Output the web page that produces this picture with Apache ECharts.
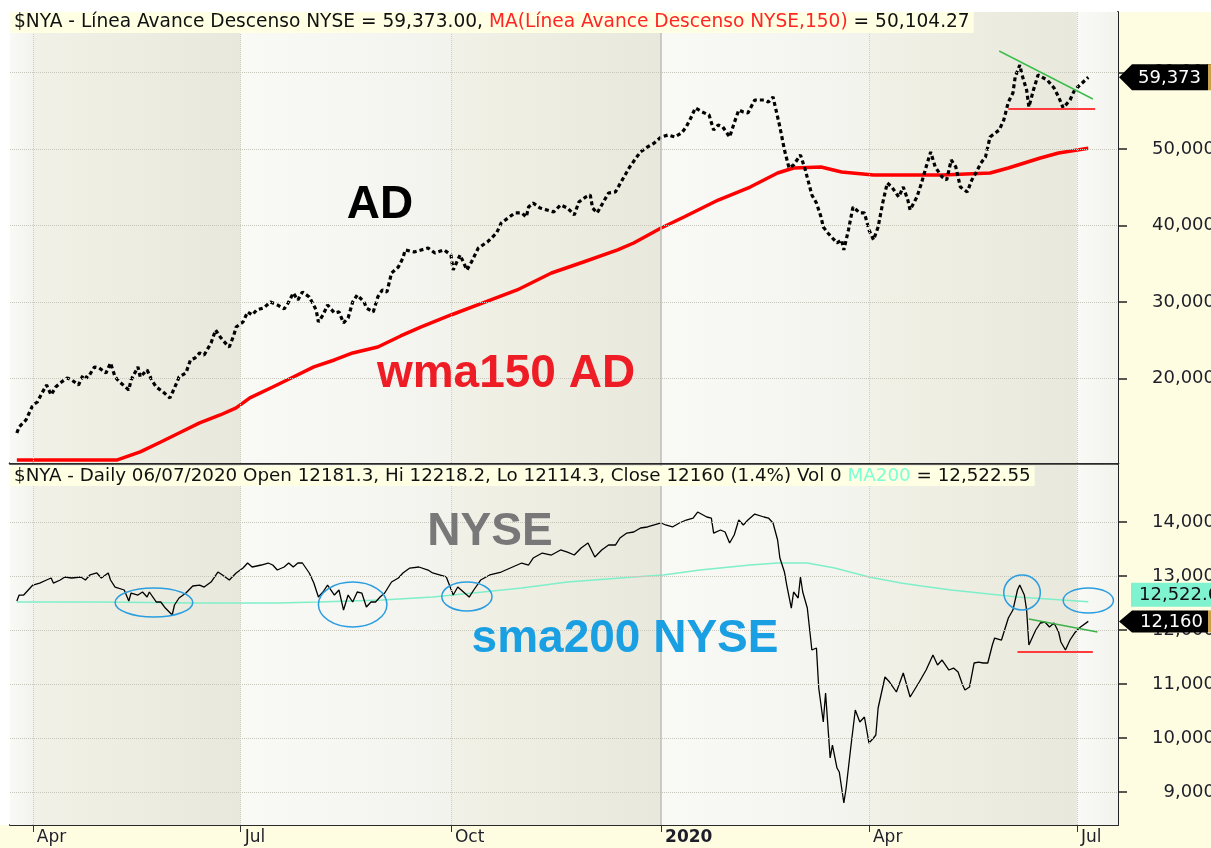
<!DOCTYPE html>
<html>
<head>
<meta charset="utf-8">
<script src="https://cdn.jsdelivr.net/npm/echarts@6/dist/echarts.min.js"></script>
<style>
  html, body { margin: 0; padding: 0; background: #fff; }
  #chart { width: 1211px; height: 848px; }
</style>
</head>
<body>
<div id="chart"></div>
<script>
// Línea Avance/Descenso NYSE (panel superior)
const adDates = [
  '2019-03-25','2019-03-26','2019-03-29','2019-04-01','2019-04-03','2019-04-05','2019-04-07','2019-04-09','2019-04-11','2019-04-13',
  '2019-04-16','2019-04-18','2019-04-21','2019-04-23','2019-04-25','2019-04-28','2019-04-30','2019-05-03','2019-05-05','2019-05-07',
  '2019-05-09','2019-05-13','2019-05-14','2019-05-17','2019-05-18','2019-05-21','2019-05-23','2019-05-25','2019-05-28','2019-05-31',
  '2019-06-02','2019-06-04','2019-06-07','2019-06-09','2019-06-11','2019-06-13','2019-06-15','2019-06-18','2019-06-20','2019-06-22',
  '2019-06-25','2019-06-26','2019-06-28','2019-06-29','2019-07-02','2019-07-04','2019-07-06','2019-07-08','2019-07-11','2019-07-14',
  '2019-07-17','2019-07-20','2019-07-22','2019-07-24','2019-07-26','2019-07-28','2019-07-31','2019-08-03','2019-08-04','2019-08-06',
  '2019-08-08','2019-08-11','2019-08-13','2019-08-15','2019-08-17','2019-08-19','2019-08-21','2019-08-24','2019-08-25','2019-08-28',
  '2019-08-30','2019-09-01','2019-09-03','2019-09-05','2019-09-08','2019-09-10','2019-09-11','2019-09-15','2019-09-18','2019-09-21',
  '2019-09-24','2019-09-28','2019-10-01','2019-10-02','2019-10-05','2019-10-08','2019-10-10','2019-10-13','2019-10-17','2019-10-21',
  '2019-10-23','2019-10-26','2019-10-29','2019-11-01','2019-11-03','2019-11-04','2019-11-06','2019-11-09','2019-11-12','2019-11-15',
  '2019-11-18','2019-11-21','2019-11-24','2019-11-26','2019-11-29','2019-12-01','2019-12-02','2019-12-04','2019-12-06','2019-12-09',
  '2019-12-12','2019-12-15','2019-12-18','2019-12-21','2019-12-23','2019-12-26','2019-12-29','2020-01-01','2020-01-04','2020-01-07',
  '2020-01-10','2020-01-12','2020-01-14','2020-01-16','2020-01-19','2020-01-22','2020-01-24','2020-01-26','2020-01-28','2020-01-31',
  '2020-02-02','2020-02-04','2020-02-06','2020-02-08','2020-02-11','2020-02-15','2020-02-17','2020-02-19','2020-02-20','2020-02-22',
  '2020-02-24','2020-02-26','2020-02-28','2020-03-02','2020-03-04','2020-03-07','2020-03-09','2020-03-11','2020-03-12','2020-03-14',
  '2020-03-18','2020-03-20','2020-03-21','2020-03-23','2020-03-25','2020-03-28','2020-03-30','2020-04-01','2020-04-03','2020-04-05',
  '2020-04-07','2020-04-09','2020-04-11','2020-04-14','2020-04-16','2020-04-18','2020-04-19','2020-04-22','2020-04-24','2020-04-26',
  '2020-04-28','2020-04-30','2020-05-03','2020-05-05','2020-05-07','2020-05-09','2020-05-11','2020-05-14','2020-05-16','2020-05-18',
  '2020-05-20','2020-05-22','2020-05-24','2020-05-28','2020-05-30','2020-06-01','2020-06-03','2020-06-04','2020-06-06','2020-06-07',
  '2020-06-09','2020-06-10','2020-06-12','2020-06-14','2020-06-18','2020-06-21','2020-06-23','2020-06-25','2020-06-28','2020-06-30',
  '2020-07-06'
];
const adValues = [
  12880,13670,14580,16540,16930,18110,19150,17850,18890,19420,
  20070,19810,19150,20460,20070,21510,21380,20720,22030,20200,
  19550,18500,19810,21510,20200,21120,19810,18890,18240,17460,
  18760,20200,20720,22420,22680,23340,23080,24640,26340,25430,
  24380,24120,25690,26740,27390,28700,28300,28960,29220,30000,
  29610,29090,30000,31180,30260,31310,30660,28960,27390,28300,
  29610,28570,28700,27260,27910,30000,30920,30000,29220,28700,
  30660,31570,31310,33790,34580,35750,36800,36540,36800,37060,
  36410,36800,36150,34190,36150,34190,35230,37060,37850,39020,
  40330,40980,41640,41640,41110,42420,42940,42290,42030,41770,
  42680,42290,41370,43070,43730,43990,42290,41640,42680,44250,
  44380,45950,47520,48820,49610,50260,50780,51570,51830,51570,
  52090,52880,54050,55360,54840,54440,52480,53140,52880,51570,
  53400,55100,54840,54710,56400,56400,56140,56800,55490,52880,
  49870,47520,47910,49220,47390,43990,42940,41110,39810,39020,
  37710,38110,36800,39410,42420,41640,41640,39410,38110,39810,
  42940,45560,45030,43730,45030,43330,42030,43730,45560,47650,
  49610,47650,46340,45950,48560,47650,45030,44380,45950,46990,
  48170,48950,51570,52480,53790,56140,57320,59410,60980,59670,
  57710,55490,57710,59670,59020,57970,56800,55360,56400,57710,
  59373
];

// MA ponderada de 150 sesiones sobre la línea AD
const wmaDates = [
  '2019-03-25','2019-05-08','2019-05-18','2019-05-27','2019-06-04','2019-06-13','2019-06-22','2019-06-29','2019-07-05','2019-07-15',
  '2019-07-24','2019-08-02','2019-08-11','2019-08-19','2019-08-30','2019-09-09','2019-09-18','2019-10-01','2019-10-15','2019-10-30',
  '2019-11-14','2019-11-28','2019-12-13','2019-12-20','2020-01-01','2020-01-11','2020-01-26','2020-02-09','2020-02-21','2020-02-28',
  '2020-03-11','2020-03-20','2020-04-03','2020-05-03','2020-05-24','2020-06-01','2020-06-08','2020-06-15','2020-06-23','2020-07-06'
];
const wmaValues = [
  9350,9350,10400,11700,12880,14190,15230,16150,17460,18890,
  20200,21510,22420,23340,24120,25560,26740,28300,29870,31570,
  33790,35230,36800,37710,39670,41110,43330,45030,46860,47520,
  47650,46990,46600,46600,46860,47520,48170,48820,49480,50104.27
];

// $NYA cierre (panel inferior)
const nyaDates = [
  '2019-03-25','2019-03-26','2019-03-28','2019-03-30','2019-04-01','2019-04-04','2019-04-07','2019-04-09','2019-04-10','2019-04-13',
  '2019-04-15','2019-04-18','2019-04-22','2019-04-24','2019-04-26','2019-04-29','2019-05-01','2019-05-04','2019-05-05','2019-05-07',
  '2019-05-11','2019-05-13','2019-05-14','2019-05-17','2019-05-19','2019-05-21','2019-05-22','2019-05-25','2019-05-27','2019-05-29',
  '2019-06-01','2019-06-02','2019-06-04','2019-06-07','2019-06-10','2019-06-13','2019-06-15','2019-06-18','2019-06-21','2019-06-23',
  '2019-06-26','2019-06-29','2019-07-02','2019-07-04','2019-07-06','2019-07-10','2019-07-13','2019-07-15','2019-07-17','2019-07-20',
  '2019-07-22','2019-07-24','2019-07-26','2019-07-28','2019-07-31','2019-08-02','2019-08-04','2019-08-06','2019-08-08','2019-08-11',
  '2019-08-13','2019-08-15','2019-08-17','2019-08-19','2019-08-21','2019-08-23','2019-08-25','2019-08-27','2019-08-29','2019-08-31',
  '2019-09-02','2019-09-05','2019-09-08','2019-09-10','2019-09-13','2019-09-17','2019-09-21','2019-09-23','2019-09-26','2019-09-29',
  '2019-10-02','2019-10-04','2019-10-07','2019-10-09','2019-10-11','2019-10-14','2019-10-18','2019-10-23','2019-10-27','2019-11-01',
  '2019-11-04','2019-11-06','2019-11-10','2019-11-14','2019-11-18','2019-11-21','2019-11-24','2019-11-27','2019-11-30','2019-12-03',
  '2019-12-06','2019-12-09','2019-12-12','2019-12-14','2019-12-17','2019-12-20','2019-12-23','2019-12-26','2019-12-29','2020-01-01',
  '2020-01-03','2020-01-06','2020-01-09','2020-01-12','2020-01-15','2020-01-17','2020-01-21','2020-01-23','2020-01-24','2020-01-27',
  '2020-01-29','2020-01-31','2020-02-02','2020-02-04','2020-02-06','2020-02-08','2020-02-11','2020-02-15','2020-02-17','2020-02-19',
  '2020-02-21','2020-02-22','2020-02-24','2020-02-25','2020-02-27','2020-02-28','2020-03-01','2020-03-02','2020-03-03','2020-03-05',
  '2020-03-07','2020-03-09','2020-03-10','2020-03-12','2020-03-13','2020-03-15','2020-03-16','2020-03-18','2020-03-19','2020-03-21',
  '2020-03-22','2020-03-24','2020-03-26','2020-03-28','2020-03-30','2020-04-01','2020-04-03','2020-04-04','2020-04-05','2020-04-08',
  '2020-04-10','2020-04-13','2020-04-16','2020-04-19','2020-04-23','2020-04-26','2020-04-29','2020-05-01','2020-05-03','2020-05-06',
  '2020-05-08','2020-05-10','2020-05-12','2020-05-13','2020-05-15','2020-05-17','2020-05-19','2020-05-21','2020-05-23','2020-05-25',
  '2020-05-26','2020-05-29','2020-06-01','2020-06-03','2020-06-05','2020-06-06','2020-06-08','2020-06-09','2020-06-10','2020-06-11',
  '2020-06-13','2020-06-15','2020-06-17','2020-06-19','2020-06-21','2020-06-23','2020-06-24','2020-06-26','2020-06-28','2020-06-30',
  '2020-07-02','2020-07-06'
];
const nyaValues = [
  12537,12648,12648,12741,12833,12870,12926,12963,12870,12926,
  12982,12963,12982,12926,13019,13056,12963,13056,12926,12796,
  12741,12537,12685,12648,12704,12611,12704,12519,12519,12407,
  12278,12463,12593,12685,12815,12833,12796,12889,13074,13019,
  12926,13056,13148,13241,13167,13204,13241,13204,13111,13167,
  13241,13167,13241,13241,13056,12870,12611,12704,12833,12648,
  12741,12370,12648,12519,12704,12685,12426,12519,12519,12611,
  12685,12889,12963,13056,13148,13167,13111,13056,13019,12982,
  12648,12796,12685,12611,12741,12926,13019,13074,13148,13241,
  13204,13333,13426,13389,13482,13444,13389,13519,13611,13352,
  13482,13574,13574,13704,13796,13815,13889,13908,13945,13982,
  13945,13908,13982,14037,14074,14185,14093,14074,13796,13852,
  13815,13611,13759,14037,13945,14037,14148,14093,14074,13982,
  13667,13333,13074,12833,12407,12704,12593,12982,12704,12407,
  11630,11667,10926,10296,10833,9630,9870,9444,9370,8796,
  9074,9815,10518,10296,10389,9907,10000,10056,10556,11130,
  11037,10852,11204,10759,11037,11259,11537,11352,11444,11259,
  11296,11222,10981,10889,10944,11389,11407,11389,11389,11722,
  11852,11815,12222,12370,12741,12833,12648,12370,11722,11815,
  12000,12130,12148,12056,12130,11963,11778,11630,11815,11944,
  12037,12160
];

// Media simple de 200 sesiones del $NYA
const smaDates = [
  '2019-03-25','2019-04-30','2019-06-13','2019-07-17','2019-08-04','2019-09-01','2019-09-23','2019-10-15','2019-11-01','2019-11-21',
  '2019-12-20','2020-01-02','2020-01-18','2020-02-09','2020-02-21','2020-03-05','2020-03-17','2020-04-01','2020-04-15','2020-04-24',
  '2020-05-07','2020-06-05','2020-07-06'
];
const smaValues = [
  12519,12519,12500,12500,12519,12556,12611,12704,12778,12889,
  12982,13019,13111,13204,13241,13241,13148,12982,12870,12815,
  12741,12611,12522.55
];

// líneas de tendencia dibujadas a mano
const adResistance = [['2020-05-28', 62810], ['2020-07-08', 56535]];
const adSupport = [['2020-06-01', 55230], ['2020-07-09', 55230]];
const nyaResistance = [['2020-06-10', 12204], ['2020-07-10', 11963]];
const nyaSupport = [['2020-06-05', 11593], ['2020-07-08', 11593]];

// óvalos: [desde, hasta, mínimo, máximo]
const ovals = [
  ['2019-05-07', '2019-06-10', 12241, 12778],
  ['2019-08-04', '2019-09-03', 12056, 12889],
  ['2019-09-27', '2019-10-19', 12352, 12889],
  ['2020-05-30', '2020-06-15', 12370, 13019],
  ['2020-06-25', '2020-07-17', 12315, 12778]
];

const quarterDates = ['2019-04-01', '2019-07-01', '2019-10-01', '2020-01-01', '2020-04-01', '2020-07-01'];
const quarterLabels = ['Apr', 'Jul', 'Oct', '2020', 'Apr', 'Jul'];
const adTicks = [20000, 30000, 40000, 50000, 60000];
const nyaTicks = [9000, 10000, 11000, 12000, 13000, 14000];

const ts = s => { const [y, m, d] = s.split('-').map(Number); return new Date(y, m - 1, d).getTime(); };
const zip = (dates, vals) => dates.map((d, i) => [ts(d), vals[i]]);
const seg = pts => pts.map(p => [ts(p[0]), p[1]]);
const fmt = (v, n) => v.toLocaleString('en-US', { minimumFractionDigits: n, maximumFractionDigits: n });
const last = a => a[a.length - 1];

const xMin = ts('2019-03-22');
const xMax = ts('2020-07-19');
const quarterTs = quarterDates.map(ts);

const shade = { type: 'linear', x: 0, y: 0, x2: 1, y2: 0,
  colorStops: [{ offset: 0, color: '#F2F1E7' }, { offset: 1, color: '#E9E8DC' }] };
const light = { type: 'linear', x: 0, y: 0, x2: 1, y2: 0,
  colorStops: [{ offset: 0, color: '#F9F9F6' }, { offset: 1, color: '#F3F3EE' }] };

function frame(idx, ticks) {
  const bands = [];
  const edges = [xMin, ...quarterTs, xMax];
  for (let i = 0; i < edges.length - 1; i++) {
    bands.push([{ xAxis: edges[i], itemStyle: { color: i % 2 ? shade : light } }, { xAxis: edges[i + 1] }]);
  }
  const lines = ticks.map(v => ({ yAxis: v }));
  quarterTs.forEach((t, i) => {
    lines.push({ xAxis: t, lineStyle: quarterLabels[i] === '2020'
      ? { type: 'solid', color: '#BDBDB8', width: 1.5 }
      : { type: 'dotted', color: '#CDCDC2', width: 1 } });
  });
  return {
    type: 'line', xAxisIndex: idx, yAxisIndex: idx, data: [], z: 1, silent: true,
    markArea: { silent: true, data: bands },
    markLine: { silent: true, symbol: 'none', label: { show: false },
      lineStyle: { type: 'dotted', color: '#C6C6BB', width: 1 }, data: lines }
  };
}

function tag(idx, point, o) {
  return {
    type: 'custom', xAxisIndex: idx, yAxisIndex: idx, clip: false, z: 30, silent: true,
    data: [point],
    renderItem: (params, api) => {
      const y = api.coord([api.value(0), api.value(1)])[1] + (o.dy || 0);
      const x0 = params.coordSys.x + params.coordSys.width;
      const l = x0 + o.gap, r = x0 + o.w, h = o.h / 2;
      const pts = o.arrow
        ? [[x0 + 1, y], [l, y - h], [r, y - h], [r, y + h], [l, y + h]]
        : [[l, y - h], [r, y - h], [r, y + h], [l, y + h]];
      const kids = [
        { type: 'polygon', shape: { points: pts }, style: { fill: o.fill } },
        { type: 'text', x: l + o.pad, y: y + 1, style: { text: fmt(api.value(1), o.dec), fill: o.color,
          fontSize: 18, fontFamily: 'DejaVu Sans', align: 'left', verticalAlign: 'middle' } }
      ];
      if (o.edge) {
        kids.push({ type: 'rect', shape: { x: r, y: y - h, width: 6, height: 2 * h }, style: { fill: o.edge } });
      }
      return { type: 'group', children: kids };
    }
  };
}

const yLabel = { align: 'right', margin: 97, fontFamily: 'DejaVu Sans', fontSize: 18, color: '#1E1E2A',
  formatter: v => fmt(v, 0) };
const titleFont = { fontFamily: 'DejaVu Sans', fontSize: 18.6, fontWeight: 'normal' };
const subFont = { fontFamily: 'DejaVu Sans', fontSize: 18.3, fontWeight: 'normal' };

const chart = echarts.init(document.getElementById('chart'));

const option = {
  animation: false,
  backgroundColor: '#FFFDE1',
  title: [
    {
      left: 10, top: 12, padding: [1, 4, 1, 4], backgroundColor: '#FFFFE3',
      text: '{a|$NYA - Línea Avance Descenso NYSE = ' + fmt(last(adValues), 2) + ', }{r|MA(Línea Avance Descenso NYSE,150)}{a| = ' + fmt(last(wmaValues), 2) + '}',
      textStyle: { fontWeight: 'normal', rich: {
        a: Object.assign({ color: '#111' }, titleFont),
        r: Object.assign({ color: '#FF2626' }, titleFont)
      } }
    },
    {
      left: 10, top: 466, padding: [1, 4, 1, 4], backgroundColor: '#FFFFE3',
      text: '{a|$NYA - Daily 06/07/2020 Open 12181.3, Hi 12218.2, Lo 12114.3, Close ' + last(nyaValues) + ' (1.4%) Vol 0 }{m|MA200}{a| = ' + fmt(last(smaValues), 2) + '}',
      textStyle: { fontWeight: 'normal', rich: {
        a: Object.assign({ color: '#111' }, subFont),
        m: Object.assign({ color: '#7FFFD4' }, subFont)
      } }
    }
  ],
  graphic: [
    { type: 'rect', z: -10, shape: { x: 0, y: 0, width: 1211, height: 12 }, style: { fill: '#FFFFFF' } },
    { type: 'rect', z: -10, shape: { x: 0, y: 0, width: 10, height: 825 }, style: { fill: '#FFFFFF' } },
    { type: 'text', x: 380, y: 205, z: 50, style: { text: 'AD', fontFamily: 'Liberation Sans', fontWeight: 'bold', fontSize: 46, fill: '#000', align: 'center', verticalAlign: 'middle' } },
    { type: 'text', x: 506, y: 374, z: 50, style: { text: 'wma150 AD', fontFamily: 'Liberation Sans', fontWeight: 'bold', fontSize: 46, fill: '#EE1C25', align: 'center', verticalAlign: 'middle' } },
    { type: 'text', x: 490, y: 532, z: 50, style: { text: 'NYSE', fontFamily: 'Liberation Sans', fontWeight: 'bold', fontSize: 46, fill: '#787878', align: 'center', verticalAlign: 'middle' } },
    { type: 'text', x: 625, y: 639, z: 50, style: { text: 'sma200 NYSE', fontFamily: 'Liberation Sans', fontWeight: 'bold', fontSize: 46, fill: '#1AA0E2', align: 'center', verticalAlign: 'middle' } }
  ],
  grid: [
    { left: 10, right: 93, top: 12, height: 451, show: true, backgroundColor: '#F8F8F4', borderWidth: 0, outerBoundsMode: 'none', containLabel: false },
    { left: 10, right: 93, top: 465, height: 360, show: true, backgroundColor: '#F8F8F4', borderWidth: 0, outerBoundsMode: 'none', containLabel: false }
  ],
  xAxis: [
    { type: 'value', gridIndex: 0, min: xMin, max: xMax,
      axisLine: { show: true, lineStyle: { color: '#2A2A2A', width: 2.5 } },
      axisTick: { show: false }, axisLabel: { show: false }, splitLine: { show: false } },
    { type: 'value', gridIndex: 1, min: xMin, max: xMax,
      axisLine: { show: true, lineStyle: { color: '#2A2A2A', width: 2 } },
      axisTick: { show: true, customValues: quarterTs, length: 7, lineStyle: { color: '#333', width: 1 } },
      axisLabel: { customValues: quarterTs, align: 'left', margin: 4, padding: [0, 0, 0, 4],
        fontFamily: 'DejaVu Sans', fontSize: 17, color: '#1E1E2A',
        formatter: v => { const i = quarterTs.indexOf(v); const s = i >= 0 ? quarterLabels[i] : '';
          return s === '2020' ? '{b|2020}' : s; },
        rich: { b: { fontFamily: 'DejaVu Sans', fontSize: 17, fontWeight: 'bold', color: '#1E1E2A' } } },
      splitLine: { show: false } }
  ],
  yAxis: [
    { type: 'value', gridIndex: 0, position: 'right', min: 8954, max: 67906,
      axisLine: { show: true, lineStyle: { color: '#222', width: 2 } },
      axisTick: { show: true, customValues: adTicks, length: 9, lineStyle: { color: '#222', width: 1.5 } },
      axisLabel: Object.assign({ customValues: adTicks }, yLabel), splitLine: { show: false } },
    { type: 'value', gridIndex: 1, position: 'right', min: 8389, max: 15056,
      axisLine: { show: true, lineStyle: { color: '#222', width: 2 } },
      axisTick: { show: true, customValues: nyaTicks, length: 9, lineStyle: { color: '#222', width: 1.5 } },
      axisLabel: Object.assign({ customValues: nyaTicks }, yLabel), splitLine: { show: false } }
  ],
  series: [
    frame(0, adTicks),
    frame(1, nyaTicks),
    { name: 'MA150', type: 'line', xAxisIndex: 0, yAxisIndex: 0, z: 3, showSymbol: false, silent: true,
      data: zip(wmaDates, wmaValues), lineStyle: { color: '#FF0000', width: 3.5 } },
    { name: 'AD', type: 'line', xAxisIndex: 0, yAxisIndex: 0, z: 4, showSymbol: false, silent: true,
      data: zip(adDates, adValues), lineStyle: { color: '#000', width: 3.2, type: [4, 3], cap: 'butt' } },
    { type: 'line', xAxisIndex: 0, yAxisIndex: 0, z: 5, showSymbol: false, silent: true,
      data: seg(adResistance), lineStyle: { color: '#3DBE4C', width: 1.5 } },
    { type: 'line', xAxisIndex: 0, yAxisIndex: 0, z: 5, showSymbol: false, silent: true,
      data: seg(adSupport), lineStyle: { color: '#FF3B3B', width: 2 } },
    { name: 'MA200', type: 'line', xAxisIndex: 1, yAxisIndex: 1, z: 3, showSymbol: false, silent: true,
      data: zip(smaDates, smaValues), lineStyle: { color: '#7EEFC9', width: 1.5 } },
    { name: 'NYA', type: 'line', xAxisIndex: 1, yAxisIndex: 1, z: 4, showSymbol: false, silent: true,
      data: zip(nyaDates, nyaValues), lineStyle: { color: '#000', width: 1.3 } },
    { type: 'line', xAxisIndex: 1, yAxisIndex: 1, z: 5, showSymbol: false, silent: true,
      data: seg(nyaResistance), lineStyle: { color: '#3DB14A', width: 1.5 } },
    { type: 'line', xAxisIndex: 1, yAxisIndex: 1, z: 5, showSymbol: false, silent: true,
      data: seg(nyaSupport), lineStyle: { color: '#FF3B3B', width: 2 } },
    { type: 'custom', xAxisIndex: 1, yAxisIndex: 1, z: 6, silent: true, clip: false,
      data: ovals.map(o => [ts(o[0]), ts(o[1]), o[2], o[3]]),
      encode: { x: [0, 1], y: [2, 3] },
      renderItem: (params, api) => {
        const a = api.coord([api.value(0), api.value(3)]);
        const b = api.coord([api.value(1), api.value(2)]);
        return { type: 'ellipse',
          shape: { cx: (a[0] + b[0]) / 2, cy: (a[1] + b[1]) / 2, rx: (b[0] - a[0]) / 2, ry: (b[1] - a[1]) / 2 },
          style: { fill: 'none', stroke: '#2A9EE0', lineWidth: 1.5 } };
      } },
    tag(0, [ts(last(adDates)), last(adValues)], { arrow: true, gap: 14, w: 90, h: 26, pad: 6, dec: 0, fill: '#000', color: '#fff', edge: '#C9A24A' }),
    tag(1, [ts(last(smaDates)), last(smaValues)], { arrow: false, gap: 13, w: 100, h: 24, pad: 8, dec: 1, dy: -7, fill: '#7FF3D0', color: '#111' }),
    tag(1, [ts(last(nyaDates)), last(nyaValues)], { arrow: true, gap: 14, w: 90, h: 22, pad: 8, dec: 0, fill: '#000', color: '#fff', edge: '#C9A24A' })
  ]
};

chart.setOption(option);
</script>
</body>
</html>
